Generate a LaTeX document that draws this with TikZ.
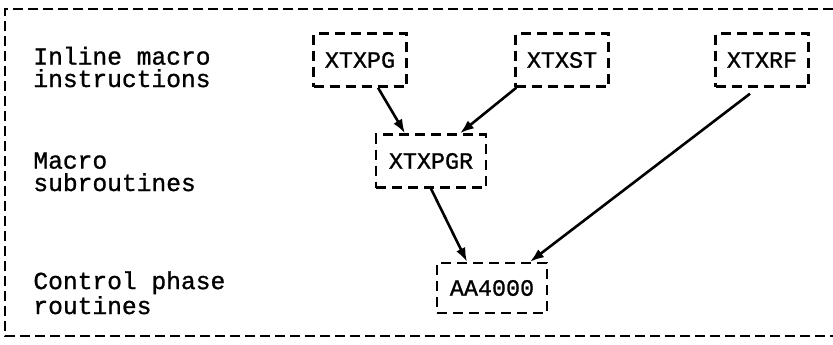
\documentclass[tikz,border=0pt]{standalone}
\usepackage{fontspec}
\newfontfamily\cardfont[FakeBold=1]{Liberation Mono}
\usetikzlibrary{arrows.meta}
\begin{document}
\begin{tikzpicture}[x=0.5pt, y=-0.5pt]
    \useasboundingbox (0,0) rectangle (833,344);
    \tikzstyle{every node}=[font=\fontsize{12.3}{11.2}\cardfont, text=black, inner sep=0pt]
    \tikzstyle{frame}=[black, line width=1.2pt, dash pattern=on 5pt off 2.5pt]

    \draw[frame] (833,9) -- (5,9) -- (5,336) -- (833,336);

    % levels, placed at the baseline of their last line
    \node[anchor=base west, align=left] (inline) at (33,87) {Inline macro\\instructions};
    \node[anchor=base west, align=left] (macro) at (33,191) {Macro\\subroutines};
    \node[anchor=base west, align=left] (control) at (33,314) {Control phase\\routines};

    \tikzstyle{routine}=[draw=black, line width=1.2pt, dash pattern=on 5pt off 3pt, minimum width=46.5pt, minimum height=26.5pt, font=\fontsize{11.7}{10}\cardfont]
    \node[routine] (xtxpg) at (360,60) {XTXPG};
    \node[routine] (xtxst) at (562,60) {XTXST};
    \node[routine] (xtxrf) at (762,60) {XTXRF};
    \node[routine, minimum width=55pt] (xtxpgr) at (431,161) {XTXPGR};
    \node[routine, minimum width=55pt, minimum height=25pt] (aa4000) at (492,288) {AA4000};

    \tikzstyle{call}=[black, line width=1.3pt, -{Latex[length=7pt, width=5pt]}]
    \draw[call] ([xshift=9pt]xtxpg.south) -- ([xshift=-13pt]xtxpgr.north);
    \draw[call] ([xshift=1pt]xtxst.south west) -- ([xshift=14.5pt]xtxpgr.north);
    \draw[call] (xtxpgr.south) -- ([xshift=-12.5pt]aa4000.north);
    \draw[call] ([xshift=-6pt, yshift=-3pt]xtxrf.south) -- ([xshift=19pt]aa4000.north);
\end{tikzpicture}
\end{document}
